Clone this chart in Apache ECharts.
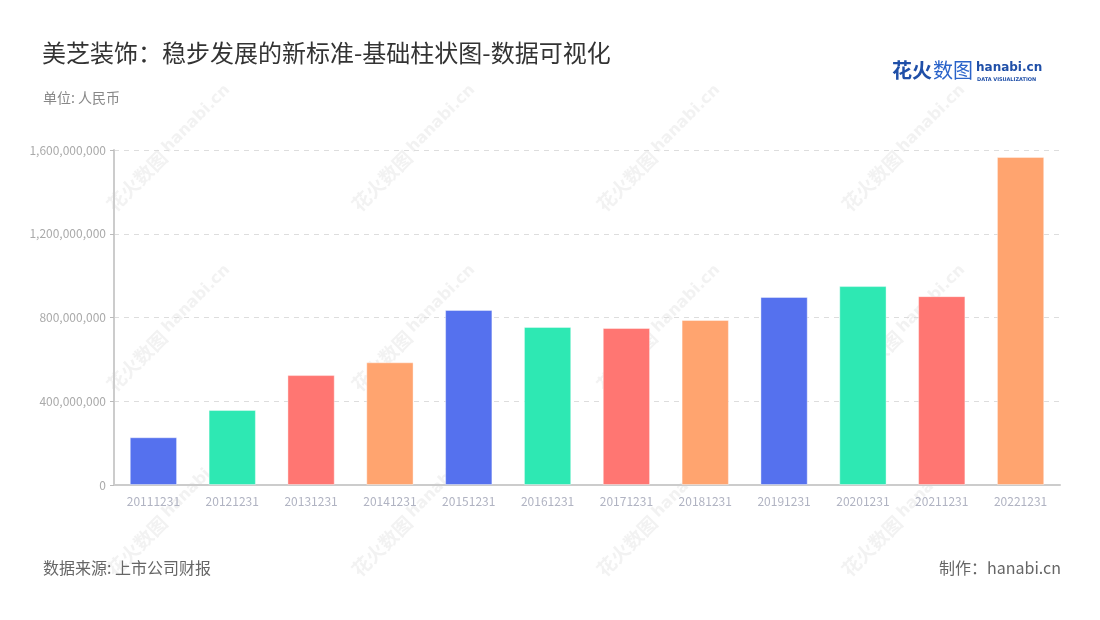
<!DOCTYPE html>
<html>
<head>
<meta charset="utf-8">
<script src="https://cdn.jsdelivr.net/npm/echarts@6/dist/echarts.min.js"></script>
<style>
  html, body { margin: 0; padding: 0; background: #fff; }
  #chart { width: 1100px; height: 620px; }
</style>
</head>
<body>
<div id="chart"></div>
<script>
  // 数据
  const categories = ['20111231', '20121231', '20131231', '20141231', '20151231', '20161231',
    '20171231', '20181231', '20191231', '20201231', '20211231', '20221231']
  const revenue = [228000000, 358000000, 525000000, 586000000, 836000000, 755000000,
    750000000, 788000000, 898000000, 950000000, 902000000, 1567000000]
  const barColors = ['#5571EE', '#2EE8B3', '#FF7672', '#FFA46F']
  const yTicks = [0, 400000000, 800000000, 1200000000, 1600000000]

  const font = '"Noto Sans CJK SC", "Noto Sans", sans-serif'

  // 水印
  const marks = []
  const wmX = [168, 413, 658, 903]
  const wmY = [150, 330, 515]
  wmY.forEach(y => {
    wmX.forEach(x => {
      marks.push({
        type: 'group',
        x: x, y: y,
        rotation: Math.PI / 4,
        z: 100,
        silent: true,
        children: [{
          type: 'text',
          style: {
            text: '花火数图',
            x: -6, y: 0,
            fill: 'rgba(190,190,190,0.2)',
            font: 'bold 19px ' + font,
            align: 'right', verticalAlign: 'middle'
          }
        }, {
          type: 'text',
          style: {
            text: 'hanabi.cn',
            x: -2, y: -2,
            fill: 'rgba(190,190,190,0.2)',
            font: 'bold 16px "DejaVu Sans", sans-serif',
            align: 'left', verticalAlign: 'middle'
          }
        }]
      })
    })
  })

  const myChart = echarts.init(document.getElementById('chart'))
  myChart.setOption({
    backgroundColor: '#fff',
    animation: false,
    title: [{
      text: '美芝装饰：稳步发展的新标准-基础柱状图-数据可视化',
      left: 37, top: 36,
      textStyle: { fontSize: 24, fontWeight: 'normal', color: '#333', fontFamily: font }
    }, {
      text: '单位: 人民币',
      left: 38, top: 86,
      textStyle: { fontSize: 14, fontWeight: 'normal', color: '#888', fontFamily: font }
    }, {
      text: '数据来源: 上市公司财报',
      left: 38, top: 555,
      textStyle: { fontSize: 16, fontWeight: 'normal', color: '#666', fontFamily: font }
    }, {
      text: '制作：hanabi.cn',
      right: 34, top: 555,
      textStyle: { fontSize: 16, fontWeight: 'normal', color: '#666', fontFamily: font }
    }],
    grid: { left: 114, right: 40, top: 150, bottom: 135 },
    xAxis: {
      type: 'category',
      data: categories,
      axisLine: { lineStyle: { color: '#ccc', width: 2 } },
      axisTick: { alignWithLabel: true, lineStyle: { color: '#aaa' } },
      axisLabel: { color: '#b0b3c2', fontSize: 12, margin: 10, fontFamily: font }
    },
    yAxis: {
      type: 'value',
      min: yTicks[0], max: yTicks[yTicks.length - 1], interval: yTicks[1] - yTicks[0],
      axisLine: { show: true, lineStyle: { color: '#ccc', width: 2 } },
      axisTick: { show: true, length: 4, lineStyle: { color: '#bbb' } },
      axisLabel: {
        color: '#aaa', fontSize: 12, margin: 8, fontFamily: font,
        formatter: v => v.toLocaleString('en-US')
      },
      splitLine: { lineStyle: { color: '#ddd', type: [5, 5] } }
    },
    series: [{
      type: 'bar',
      barWidth: '60%',
      data: revenue.map((v, i) => ({
        value: v,
        itemStyle: { color: barColors[i % barColors.length] }
      })),
      itemStyle: { borderColor: 'rgba(255,255,255,0.4)', borderWidth: 1 }
    }],
    graphic: [{
      type: 'text',
      left: 892, top: 60,
      style: { text: '花火', fill: '#1f4fa8', font: 'bold 20px ' + font }
    }, {
      type: 'text',
      left: 933, top: 60,
      style: { text: '数图', fill: '#2a63c9', font: '20px ' + font }
    }, {
      type: 'text',
      left: 976, top: 62,
      style: { text: 'hanabi.cn', fill: '#1f4fa8', font: 'bold 12px "DejaVu Sans", sans-serif' }
    }, {
      type: 'text',
      left: 977, top: 77,
      style: { text: 'DATA VISUALIZATION', fill: '#1f4fa8', font: 'bold 5px "DejaVu Sans", sans-serif' }
    }].concat(marks)
  })
</script>
</body>
</html>
